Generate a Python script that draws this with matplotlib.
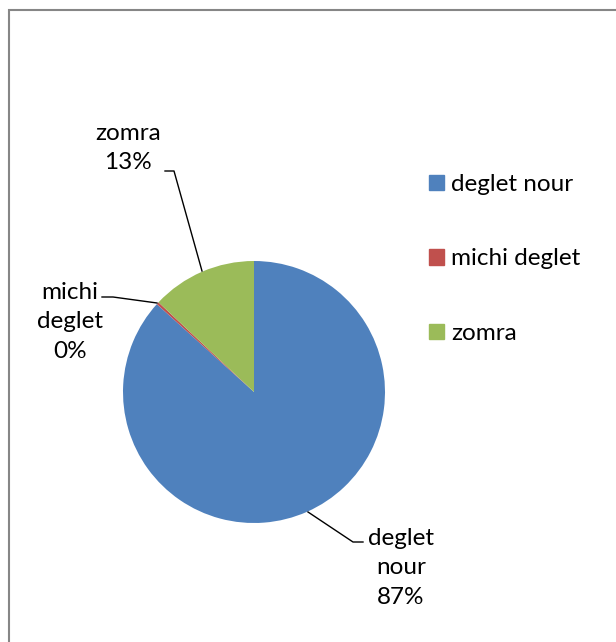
import matplotlib.pyplot as plt
import matplotlib.patches as patches

# pie data (percent of total)
varieties = ['deglet nour', 'michi deglet', 'zomra']
shares = [86.7, 0.3, 13.0]
colors = ['#4F81BD', '#C0504D', '#9BBB59']

# data-label text, split across lines like the original chart
label_lines = ['deglet\nnour', 'michi\ndeglet', 'zomra']

W, H = 616, 642
plt.rcParams['font.family'] = ['Lato', 'DejaVu Sans']
FS = 17.5

fig = plt.figure(figsize=(W / 100, H / 100), dpi=100)

# pie box: centre (254, 392) px, radius 131 px
cx, cy, r = 254, 392, 131
ax = fig.add_axes([(cx - r) / W, (H - cy - r) / H, 2 * r / W, 2 * r / H])
ax.pie(shares, colors=colors, startangle=90, counterclock=False,
       radius=1, wedgeprops=dict(linewidth=0))
ax.set_xlim(-1, 1)
ax.set_ylim(-1, 1)
ax.axis('off')


def px(x, y):
    return ((x - cx) / r, (cy - y) / r)


# label positions (pixel centre of text block) and leader-line points
label_pos = [(401, 568), (70, 322), (128, 148)]
leaders = [
    [(308, 512), (353, 542), (363, 542)],
    [(157, 303), (113, 297), (102, 297)],
    [(202, 271), (174, 171), (165, 171)],
]

for name, val, (lx, ly), pts in zip(label_lines, shares, label_pos, leaders):
    txt = f"{name}\n{val:.0f}%"
    ax.text(*px(lx, ly), txt, ha='center', va='center', fontsize=FS,
            linespacing=1.5, clip_on=False)
    xs, ys = zip(*[px(*p) for p in pts])
    ax.plot(xs, ys, color='black', lw=1.0, clip_on=False)

# legend on the right
handles = [patches.Patch(color=c, label=v) for c, v in zip(colors, varieties)]
fig.legend(handles=handles, loc='upper left',
           bbox_to_anchor=(429 / W, 1 - 174 / H), frameon=False,
           fontsize=FS, handlelength=0.6, handleheight=0.6,
           handletextpad=0.3, labelspacing=2.2, borderpad=0,
           borderaxespad=0)

# chart-area border (only left and top edges visible in the crop)
fig.add_artist(patches.Rectangle((8.5 / W, -0.1), 1.2, (H - 9.5) / H + 0.1,
                                 transform=fig.transFigure, fill=False,
                                 edgecolor='#868686', lw=1.5))

fig.savefig('out.png', dpi=100)
